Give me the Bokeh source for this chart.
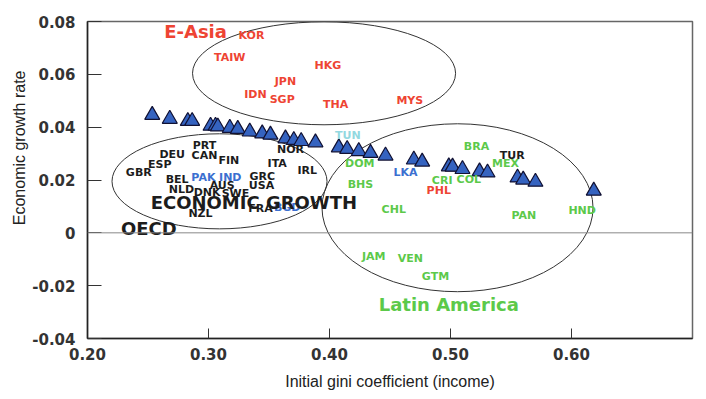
import numpy as np
from bokeh.plotting import figure
from bokeh.models import ColumnDataSource, FixedTicker, Span, Title, Range1d, CustomJSTickFormatter
from bokeh.core.properties import value
from bokeh.embed import file_html
from bokeh.resources import INLINE

# ---- data -------------------------------------------------------------
# predicted growth (triangles) vs initial gini
fit_gini = [0.2535, 0.2680, 0.2829, 0.2865, 0.3017, 0.3058, 0.3077, 0.3176, 0.3242,
            0.3341, 0.3444, 0.3512, 0.3636, 0.3705, 0.3766, 0.3884, 0.4077, 0.4146,
            0.4242, 0.4339, 0.4463, 0.4697, 0.4766, 0.4986, 0.5017, 0.5099, 0.5240,
            0.5306, 0.5554, 0.5601, 0.5702, 0.6184]
fit_growth = [0.0446, 0.0431, 0.0423, 0.0423, 0.0405, 0.0405, 0.0402, 0.0397, 0.0393,
              0.0383, 0.0376, 0.0371, 0.0357, 0.0351, 0.0347, 0.0342, 0.0323, 0.0317,
              0.0309, 0.0302, 0.0292, 0.0277, 0.0269, 0.0251, 0.0250, 0.0241, 0.0232,
              0.0228, 0.0209, 0.0201, 0.0193, 0.0159]

countries = ["KOR", "TAIW", "HKG", "JPN", "IDN", "SGP", "THA", "MYS",
             "PRT", "DEU", "CAN", "FIN", "ESP", "GBR", "NOR", "ITA", "IRL", "BEL",
             "PAK", "IND", "GRC", "USA", "AUS", "NLD", "DNK", "SWE", "NZL", "FRA", "BGD",
             "TUN", "DOM", "LKA", "BHS", "CHL", "BRA", "CRI", "COL", "PHL", "MEX", "TUR",
             "PAN", "HND", "JAM", "VEN", "GTM"]
country_gini = [0.3355, 0.3176, 0.3986, 0.3636, 0.3388, 0.3609, 0.4050, 0.4664,
                0.2967, 0.2700, 0.2967, 0.3168, 0.2598, 0.2424, 0.3678, 0.3568, 0.3816, 0.2741,
                0.2958, 0.3180, 0.3444, 0.3438, 0.3113, 0.2777, 0.2989, 0.3223, 0.2934, 0.3430, 0.3650,
                0.4151, 0.4250, 0.4628, 0.4256, 0.4531, 0.5215, 0.4931, 0.5151, 0.4903, 0.5455, 0.5510,
                0.5606, 0.6088, 0.4366, 0.4669, 0.4876]
country_growth = [0.0746, 0.0662, 0.0635, 0.0572, 0.0523, 0.0503, 0.0484, 0.0500,
                  0.0330, 0.0298, 0.0294, 0.0275, 0.0260, 0.0228, 0.0314, 0.0263, 0.0235, 0.0203,
                  0.0210, 0.0210, 0.0213, 0.0178, 0.0178, 0.0165, 0.0153, 0.0149, 0.0073, 0.0094, 0.0096,
                  0.0367, 0.0263, 0.0228, 0.0182, 0.0090, 0.0327, 0.0197, 0.0203, 0.0162, 0.0263, 0.0294,
                  0.0064, 0.0083, -0.0091, -0.0097, -0.0165]
country_group = ["easia"] * 8 + ["oecd"] * 10 + ["sasia", "sasia"] + ["oecd"] * 8 + ["sasia",
                 "mena", "latam", "sasia", "latam", "latam", "latam", "latam", "latam", "easia", "latam", "other",
                 "latam", "latam", "latam", "latam", "latam"]

region_names = ["E-Asia", "ECONOMIC GROWTH", "OECD", "Latin America"]
region_gini = [0.2893, 0.3375, 0.2507, 0.4986]
region_growth = [0.0762, 0.0115, 0.0018, -0.0270]
region_group = ["easia", "oecd", "oecd", "latam"]

ellipse_gini = [0.3955, 0.3091, 0.5058]
ellipse_growth = [0.0604, 0.0195, 0.0095]
ellipse_width = [0.2174, 0.1777, 0.2240]
ellipse_height = [0.0390, 0.0360, 0.0636]

x_ticks = [0.20, 0.30, 0.40, 0.50, 0.60]
y_ticks = [-0.04, -0.02, 0.0, 0.02, 0.04, 0.06, 0.08]

group_colors = {"easia": "#ee4433", "oecd": "#1c1c1c", "latam": "#5cc94a",
                "sasia": "#3b6fd0", "mena": "#93d8e0", "other": "#1c1c1c"}

# ---- figure -----------------------------------------------------------
p = figure(frame_width=605, frame_height=317, output_backend="svg", toolbar_location=None,
           x_range=Range1d(0.20, 0.70), y_range=Range1d(-0.04, 0.08),
           min_border_left=87, min_border_top=21, min_border_right=6, min_border_bottom=45,
           background_fill_color="white", border_fill_color="white")
p.grid.visible = False
p.outline_line_color = "#666666"
p.outline_line_width = 1.5

p.xaxis.ticker = FixedTicker(ticks=x_ticks)
p.yaxis.ticker = FixedTicker(ticks=y_ticks)
p.xaxis.formatter = CustomJSTickFormatter(code="return tick.toFixed(2);")
p.yaxis.formatter = CustomJSTickFormatter(code="return Math.abs(tick) < 1e-9 ? '0' : tick.toFixed(2);")
for ax in (p.xaxis, p.yaxis):
    ax.minor_tick_line_color = None
    ax.major_tick_out = 0
    ax.axis_line_color = "#222222"
    ax.axis_line_width = 1.5
    ax.major_tick_line_color = "#333333"
    ax.major_label_text_font = "DejaVu Sans"
    ax.major_label_text_font_style = "bold"
    ax.major_label_text_font_size = "15px"
    ax.major_label_text_color = "#333333"
p.xaxis.major_tick_in = 10
p.yaxis.major_tick_in = 14
p.xaxis.major_label_standoff = 9
p.yaxis.major_label_standoff = 12

p.xaxis.axis_label = "Initial gini coefficient (income)"
p.xaxis.axis_label_text_font = "Liberation Sans"
p.xaxis.axis_label_text_font_style = "normal"
p.xaxis.axis_label_text_font_size = "16px"
p.xaxis.axis_label_text_color = "#222222"
p.xaxis.axis_label_standoff = 10

p.add_layout(Span(location=0, dimension="width", line_color="#888888", line_width=1))

p.ellipse(x=ellipse_gini, y=ellipse_growth, width=ellipse_width, height=ellipse_height,
          fill_alpha=0, line_color="#333333", line_width=1)

p.scatter(fit_gini, fit_growth, marker="triangle", size=15,
          fill_color="#3563c0", line_color="#111133", line_width=1.2)

csrc = ColumnDataSource(dict(x=country_gini, y=country_growth, t=countries,
                             c=[group_colors[g] for g in country_group]))
p.text(x="x", y="y", text="t", source=csrc, text_color="c", text_align="center",
       text_baseline="middle", text_font=value("DejaVu Sans"), text_font_style="bold",
       text_font_size="11px")

rsrc = ColumnDataSource(dict(x=region_gini, y=region_growth, t=region_names,
                             c=[group_colors[g] for g in region_group]))
p.text(x="x", y="y", text="t", source=rsrc, text_color="c", text_align="center",
       text_baseline="middle", text_font=value("DejaVu Sans"), text_font_style="bold",
       text_font_size="18px")

p.add_layout(Title(text="Economic growth rate", align="right", offset=49,
                   text_font="Liberation Sans", text_font_style="normal",
                   text_font_size="16px", text_color="#222222", standoff=4), "left")

open("out.html", "w").write(file_html(p, INLINE))
